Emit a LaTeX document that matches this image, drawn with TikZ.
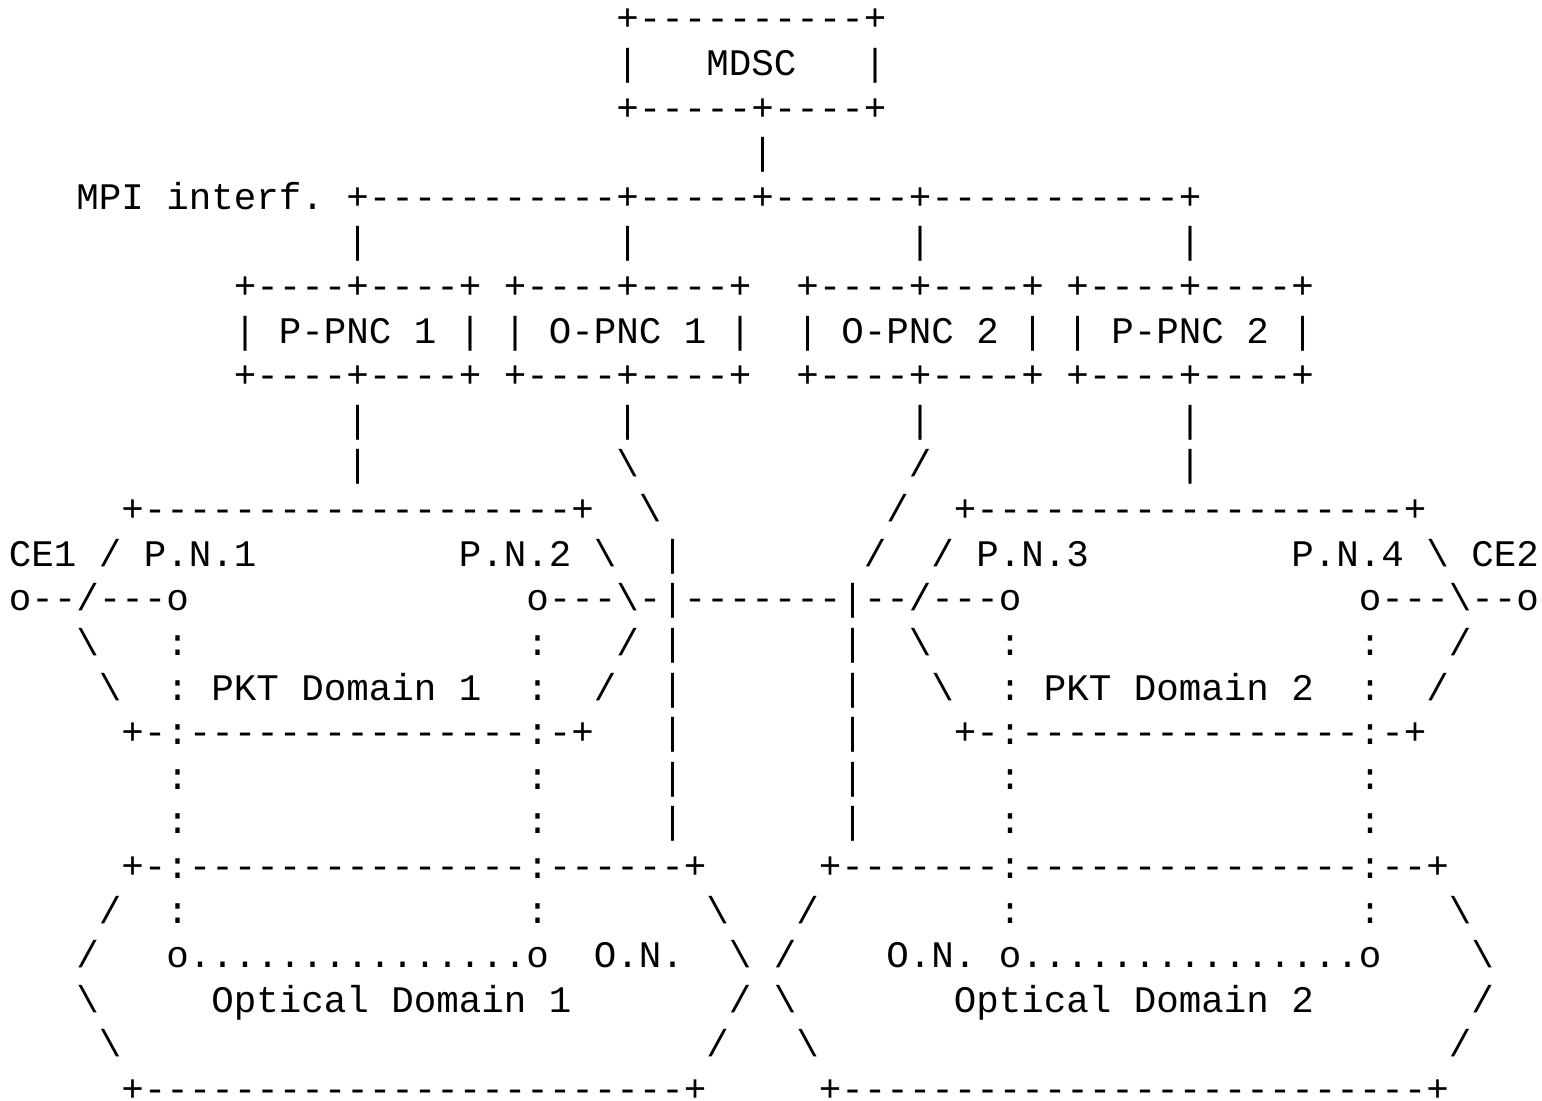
\documentclass[tikz,border=0pt]{standalone}
\usepackage{fontspec}
\setmonofont{Liberation Mono}

\newlength\charw
\newcommand\gap[1]{\hspace*{#1\charw}}
\newcommand\bs{\textbackslash}
\ExplSyntaxOn
\cs_new:Npn \rep #1#2 { \prg_replicate:nn {#1} {#2} }
\ExplSyntaxOff
\newcommand\asciisize{\fontsize{18.75pt}{22.3pt}\selectfont}
\AtBeginDocument{\settowidth\charw{\ttfamily\asciisize x}}

\begin{document}
\begin{tikzpicture}[x=11.25pt, y=22.3pt,
  txtrow/.style={anchor=base west, inner sep=0pt, outer sep=0pt, font=\ttfamily\asciisize}]

\fill[white] (0,0) rectangle (68.533,-24.664);
\useasboundingbox (0,0) rectangle (68.533,-24.664);

% MDSC
\node[txtrow] (r1) at (0.389,-0.695) {\gap{27}+\rep{10}{-}+};
\node[txtrow] (r2) at (0.389,-1.695) {\gap{27}|\gap{3}MDSC\gap{3}|};
\node[txtrow] (r3) at (0.389,-2.695) {\gap{27}+\rep{5}{-}+\rep{4}{-}+};
\node[txtrow] (r4) at (0.389,-3.695) {\gap{33}|};

% MPI and PNCs
\node[txtrow] (r5) at (0.389,-4.695) {\gap{3}MPI interf. +\rep{11}{-}+\rep{5}{-}+\rep{6}{-}+\rep{11}{-}+};
\foreach \r in {6,10}
  \node[txtrow] (r\r) at (0.389,{0.305-\r}) {\gap{15}|\gap{11}|\gap{12}|\gap{11}|};
\foreach \r in {7,9}
  \node[txtrow] (r\r) at (0.389,{0.305-\r}) {\gap{10}+----+----+ +----+----+\gap{2}+----+----+ +----+----+};
\node[txtrow] (r8) at (0.389,-7.695) {\gap{10}| P-PNC 1 | | O-PNC 1 |\gap{2}| O-PNC 2 | | P-PNC 2 |};
\node[txtrow] (r11) at (0.389,-10.695) {\gap{15}|\gap{11}\bs\gap{12}/\gap{11}|};

% packet domains
\node[txtrow] (r12) at (0.389,-11.695) {\gap{5}+\rep{19}{-}+\gap{2}\bs\gap{10}/\gap{2}+\rep{19}{-}+};
\node[txtrow] (r13) at (0.389,-12.695) {CE1 / P.N.1\gap{9}P.N.2 \bs\gap{2}|\gap{8}/\gap{2}/ P.N.3\gap{9}P.N.4 \bs\gap{1}CE2};
\node[txtrow] (r14) at (0.389,-13.695) {o--/---o\gap{15}o---\bs-|\rep{7}{-}|--/---o\gap{15}o---\bs--o};
\node[txtrow] (r15) at (0.389,-14.695) {\gap{3}\bs\gap{3}:\gap{15}:\gap{3}/ |\gap{7}|\gap{2}\bs\gap{3}:\gap{15}:\gap{3}/};
\node[txtrow] (r16) at (0.389,-15.695) {\gap{4}\bs\gap{2}: PKT Domain 1\gap{2}:\gap{2}/\gap{2}|\gap{7}|\gap{3}\bs\gap{2}: PKT Domain 2\gap{2}:\gap{2}/};
\node[txtrow] (r17) at (0.389,-16.695) {\gap{5}+-:\rep{15}{-}:-+\gap{3}|\gap{7}|\gap{4}+-:\rep{15}{-}:-+};
\foreach \r in {18,19}
  \node[txtrow] (r\r) at (0.389,{0.305-\r}) {\gap{7}:\gap{15}:\gap{5}|\gap{7}|\gap{6}:\gap{15}:};

% optical domains
\node[txtrow] (r20) at (0.389,-19.695) {\gap{5}+-:\rep{15}{-}:\rep{6}{-}+\gap{5}+\rep{7}{-}:\rep{15}{-}:--+};
\node[txtrow] (r21) at (0.389,-20.695) {\gap{4}/\gap{2}:\gap{15}:\gap{7}\bs\gap{3}/\gap{8}:\gap{15}:\gap{3}\bs};
\node[txtrow] (r22) at (0.389,-21.695) {\gap{3}/\gap{3}o\rep{15}{.}o\gap{2}O.N.\gap{2}\bs\gap{1}/\gap{4}O.N. o\rep{15}{.}o\gap{4}\bs};
\node[txtrow] (r23) at (0.389,-22.695) {\gap{3}\bs\gap{5}Optical Domain 1\gap{7}/\gap{1}\bs\gap{7}Optical Domain 2\gap{7}/};
\node[txtrow] (r24) at (0.389,-23.695) {\gap{4}\bs\gap{26}/\gap{3}\bs\gap{28}/};
\node[txtrow] (r25) at (0.389,-24.695) {\gap{5}+\rep{24}{-}+\gap{5}+\rep{26}{-}+};

\end{tikzpicture}
\end{document}
